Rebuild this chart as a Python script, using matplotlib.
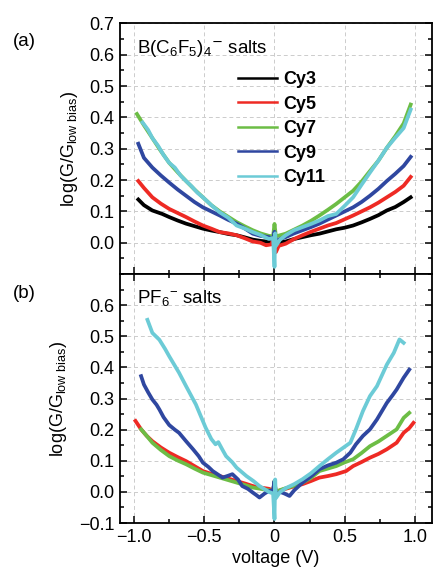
import matplotlib
matplotlib.use("Agg")
import matplotlib.pyplot as plt
from matplotlib.ticker import MultipleLocator, FixedLocator

plt.rcParams['font.family'] = ['Liberation Sans', 'DejaVu Sans']
plt.rcParams['mathtext.fontset'] = 'custom'
plt.rcParams['mathtext.rm'] = 'Liberation Sans'
plt.rcParams['mathtext.it'] = 'Liberation Sans:italic'
plt.rcParams['mathtext.bf'] = 'Liberation Sans:bold'

# ---------------- data: panel (a) B(C6F5)4- salts ----------------
a_cy3_x = [-0.97, -0.93, -0.87, -0.80, -0.75, -0.69, -0.63, -0.57, -0.51, -0.45, -0.39, -0.33, -0.27, -0.21, -0.155, -0.10, -0.04, -0.01, 0.0, 0.01, 0.05, 0.08, 0.14, 0.20, 0.26, 0.32, 0.38, 0.44, 0.50, 0.56, 0.62, 0.68, 0.74, 0.80, 0.86, 0.92, 0.97]
a_cy3_y = [0.138, 0.12, 0.103, 0.092, 0.082, 0.071, 0.061, 0.053, 0.045, 0.039, 0.034, 0.028, 0.024, 0.017, 0.010, 0.006, 0.003, 0.010, 0.03, 0.0, 0.002, 0.004, 0.012, 0.018, 0.024, 0.029, 0.036, 0.043, 0.048, 0.055, 0.065, 0.076, 0.088, 0.103, 0.114, 0.130, 0.145]

a_cy5_x = [-0.97, -0.93, -0.87, -0.81, -0.75, -0.69, -0.63, -0.57, -0.51, -0.45, -0.39, -0.33, -0.27, -0.21, -0.155, -0.10, -0.06, -0.02, 0.0, 0.01, 0.03, 0.08, 0.14, 0.20, 0.26, 0.32, 0.38, 0.44, 0.50, 0.56, 0.62, 0.68, 0.74, 0.80, 0.86, 0.92, 0.97]
a_cy5_y = [0.197, 0.175, 0.145, 0.125, 0.108, 0.095, 0.082, 0.068, 0.055, 0.045, 0.034, 0.030, 0.024, 0.014, 0.004, 0.0, -0.008, -0.005, 0.04, -0.03, -0.01, -0.003, 0.012, 0.024, 0.035, 0.045, 0.055, 0.063, 0.075, 0.087, 0.100, 0.113, 0.128, 0.145, 0.162, 0.182, 0.210]

a_cy7_x = [-0.98, -0.93, -0.87, -0.81, -0.75, -0.69, -0.63, -0.57, -0.51, -0.45, -0.39, -0.33, -0.27, -0.21, -0.155, -0.10, -0.04, -0.01, 0.0, 0.01, 0.04, 0.08, 0.14, 0.20, 0.26, 0.32, 0.38, 0.44, 0.50, 0.56, 0.62, 0.68, 0.74, 0.80, 0.86, 0.92, 0.97]
a_cy7_y = [0.411, 0.375, 0.334, 0.293, 0.255, 0.225, 0.197, 0.170, 0.145, 0.120, 0.100, 0.083, 0.066, 0.052, 0.040, 0.030, 0.022, 0.020, 0.060, 0.020, 0.024, 0.029, 0.042, 0.055, 0.070, 0.087, 0.105, 0.124, 0.145, 0.166, 0.195, 0.229, 0.262, 0.303, 0.340, 0.381, 0.441]

a_cy9_x = [-0.97, -0.93, -0.87, -0.81, -0.75, -0.69, -0.63, -0.57, -0.51, -0.45, -0.39, -0.33, -0.27, -0.21, -0.155, -0.10, -0.04, -0.01, 0.0, 0.01, 0.04, 0.08, 0.14, 0.20, 0.26, 0.32, 0.38, 0.44, 0.50, 0.56, 0.62, 0.68, 0.74, 0.80, 0.86, 0.92, 0.97]
a_cy9_y = [0.316, 0.271, 0.240, 0.215, 0.192, 0.170, 0.150, 0.130, 0.113, 0.100, 0.087, 0.073, 0.061, 0.045, 0.029, 0.022, 0.018, 0.010, 0.035, 0.005, 0.012, 0.018, 0.030, 0.040, 0.050, 0.061, 0.074, 0.087, 0.100, 0.113, 0.130, 0.150, 0.172, 0.197, 0.220, 0.245, 0.274]

a_cy11_x = [-0.94, -0.90, -0.87, -0.83, -0.79, -0.75, -0.71, -0.67, -0.63, -0.59, -0.55, -0.51, -0.45, -0.39, -0.33, -0.27, -0.21, -0.155, -0.10, -0.04, -0.01, 0.0, 0.005, 0.01, 0.04, 0.08, 0.14, 0.20, 0.26, 0.32, 0.38, 0.44, 0.50, 0.56, 0.62, 0.68, 0.74, 0.80, 0.86, 0.92, 0.97]
a_cy11_y = [0.384, 0.36, 0.334, 0.31, 0.28, 0.255, 0.24, 0.215, 0.197, 0.18, 0.16, 0.145, 0.12, 0.097, 0.080, 0.055, 0.045, 0.034, 0.025, 0.012, 0.015, -0.077, 0.03, -0.01, 0.010, 0.024, 0.040, 0.050, 0.060, 0.071, 0.085, 0.092, 0.118, 0.145, 0.185, 0.224, 0.262, 0.303, 0.335, 0.366, 0.425]

# ---------------- data: panel (b) PF6- salts ----------------
b_cy5_x = [-0.99, -0.95, -0.91, -0.87, -0.81, -0.75, -0.69, -0.63, -0.57, -0.51, -0.45, -0.39, -0.33, -0.27, -0.21, -0.155, -0.10, -0.04, -0.01, 0.0, 0.01, 0.04, 0.08, 0.14, 0.20, 0.26, 0.32, 0.38, 0.44, 0.51, 0.56, 0.62, 0.68, 0.74, 0.80, 0.87, 0.92, 0.96, 0.99]
b_cy5_y = [0.228, 0.201, 0.18, 0.163, 0.143, 0.126, 0.112, 0.099, 0.083, 0.067, 0.058, 0.051, 0.043, 0.035, 0.027, 0.019, 0.014, 0.010, 0.005, 0.03, 0.0, 0.005, 0.010, 0.018, 0.025, 0.035, 0.046, 0.051, 0.057, 0.067, 0.083, 0.096, 0.110, 0.122, 0.137, 0.158, 0.19, 0.205, 0.222]

b_cy7_x = [-0.95, -0.91, -0.87, -0.81, -0.75, -0.69, -0.63, -0.57, -0.51, -0.45, -0.39, -0.33, -0.27, -0.21, -0.155, -0.10, -0.04, -0.01, 0.0, 0.01, 0.04, 0.08, 0.14, 0.20, 0.26, 0.32, 0.38, 0.44, 0.50, 0.56, 0.62, 0.68, 0.74, 0.80, 0.87, 0.92, 0.96]
b_cy7_y = [0.201, 0.18, 0.158, 0.135, 0.115, 0.101, 0.089, 0.075, 0.062, 0.054, 0.046, 0.038, 0.030, 0.022, 0.014, 0.010, 0.005, 0.003, 0.035, 0.0, 0.006, 0.012, 0.020, 0.030, 0.045, 0.067, 0.075, 0.083, 0.095, 0.105, 0.125, 0.147, 0.162, 0.180, 0.201, 0.238, 0.254]

b_cy9_x = [-0.95, -0.93, -0.90, -0.87, -0.84, -0.82, -0.79, -0.75, -0.71, -0.68, -0.63, -0.58, -0.54, -0.51, -0.47, -0.44, -0.40, -0.37, -0.33, -0.30, -0.26, -0.23, -0.19, -0.155, -0.13, -0.107, -0.07, -0.04, -0.01, 0.0, 0.01, 0.04, 0.07, 0.107, 0.14, 0.20, 0.26, 0.32, 0.38, 0.44, 0.49, 0.54, 0.58, 0.63, 0.68, 0.73, 0.80, 0.84, 0.87, 0.92, 0.96]
b_cy9_y = [0.372, 0.345, 0.32, 0.297, 0.28, 0.265, 0.24, 0.215, 0.2, 0.19, 0.163, 0.137, 0.115, 0.094, 0.08, 0.067, 0.055, 0.046, 0.052, 0.057, 0.04, 0.019, 0.01, -0.002, -0.01, -0.018, -0.005, 0.003, 0.005, 0.035, -0.01, 0.0, -0.005, -0.013, 0.005, 0.03, 0.05, 0.073, 0.085, 0.094, 0.105, 0.126, 0.153, 0.18, 0.201, 0.233, 0.286, 0.31, 0.329, 0.367, 0.393]

b_cy11_x = [-0.905, -0.87, -0.82, -0.78, -0.75, -0.68, -0.63, -0.56, -0.49, -0.45, -0.42, -0.40, -0.37, -0.345, -0.30, -0.27, -0.20, -0.15, -0.107, -0.04, -0.01, 0.0, 0.005, 0.01, 0.04, 0.08, 0.14, 0.20, 0.26, 0.32, 0.38, 0.44, 0.49, 0.54, 0.58, 0.63, 0.68, 0.73, 0.80, 0.85, 0.89, 0.92]
b_cy11_y = [0.553, 0.511, 0.489, 0.46, 0.436, 0.383, 0.34, 0.281, 0.206, 0.17, 0.153, 0.16, 0.135, 0.115, 0.095, 0.078, 0.051, 0.035, 0.019, 0.0, -0.005, -0.087, 0.04, -0.02, 0.0, 0.012, 0.025, 0.041, 0.06, 0.083, 0.105, 0.126, 0.142, 0.158, 0.201, 0.26, 0.308, 0.34, 0.409, 0.447, 0.49, 0.479]

labels = ['Cy3', 'Cy5', 'Cy7', 'Cy9', 'Cy11']
colors = ['#000000', '#ee2a24', '#6cbd45', '#2f47a0', '#6ccbd6']
x_ticks = [-1.0, -0.5, 0.0, 0.5, 1.0]
x_ticklabels = ['\u22121.0', '\u22120.5', '0', '0.5', '1.0']

FS = 13

fig = plt.figure(figsize=(4.35, 5.71), dpi=100)
ax1 = fig.add_axes([0.276, 0.520, 0.7165, 0.439])
ax2 = fig.add_axes([0.276, 0.084, 0.7165, 0.436])

lw = 2.7
top_series = [(a_cy3_x, a_cy3_y), (a_cy5_x, a_cy5_y), (a_cy7_x, a_cy7_y), (a_cy9_x, a_cy9_y), (a_cy11_x, a_cy11_y)]
for (x, y), c, lab in zip(top_series, colors, labels):
    ax1.plot(x, y, color=c, lw=lw, label=lab, solid_joinstyle='round')

bot_series = [(b_cy5_x, b_cy5_y), (b_cy7_x, b_cy7_y), (b_cy9_x, b_cy9_y), (b_cy11_x, b_cy11_y)]
for (x, y), c in zip(bot_series, colors[1:]):
    ax2.plot(x, y, color=c, lw=lw, solid_joinstyle='round')

ylab = r'log(G/G$_{\mathrm{low\ bias}}$)'
for ax in (ax1, ax2):
    ax.set_xlim(-1.1, 1.12)
    ax.set_ylim(-0.1, 0.7)
    ax.xaxis.set_major_locator(FixedLocator(x_ticks))
    ax.xaxis.set_minor_locator(MultipleLocator(0.25))
    ax.yaxis.set_major_locator(MultipleLocator(0.1))
    ax.yaxis.set_minor_locator(MultipleLocator(0.05))
    ax.grid(True, which='major', color='#cccccc', linestyle=(0, (4, 3)), linewidth=0.7)
    ax.set_axisbelow(True)
    for s in ax.spines.values():
        s.set_linewidth(1.3)
    ax.tick_params(which='both', direction='in', width=1.1, labelsize=FS, pad=4, right=True)
    ax.tick_params(which='major', length=5)
    ax.tick_params(which='minor', length=3)
    ax.set_ylabel(ylab, fontsize=FS, labelpad=7)

ax1.tick_params(which='both', top=False, labelbottom=False)
ax2.tick_params(which='both', top=True)
ax1.set_yticks([0.0, 0.1, 0.2, 0.3, 0.4, 0.5, 0.6, 0.7])
ax1.set_yticklabels(['0.0', '0.1', '0.2', '0.3', '0.4', '0.5', '0.6', '0.7'])
ax2.set_yticks([-0.1, 0.0, 0.1, 0.2, 0.3, 0.4, 0.5, 0.6])
ax2.set_yticklabels(['\u22120.1', '0.0', '0.1', '0.2', '0.3', '0.4', '0.5', '0.6'])
ax2.set_xticklabels(x_ticklabels)
ax2.set_xlabel('voltage (V)', fontsize=FS, labelpad=3)

ax1.text(0.055, 0.90, r'B(C$_6$F$_5$)$_4$$^{\mathsf{-}}$ salts', transform=ax1.transAxes,
         fontsize=13.5, va='center', ha='left')
ax2.text(0.055, 0.905, r'PF$_6$$^{-}$ salts', transform=ax2.transAxes,
         fontsize=13.5, va='center', ha='left')

leg = ax1.legend(loc='upper left', bbox_to_anchor=(0.378, 0.81), frameon=False,
                 prop={'weight': 'bold', 'size': 13}, handlelength=2.15,
                 handletextpad=0.35, labelspacing=0.42, borderpad=0, borderaxespad=0)
for h in leg.get_lines():
    h.set_linewidth(1.8)

fig.text(0.03, 1 - 42 / 571, '(a)', fontsize=13.5, va='center', ha='left')
fig.text(0.03, 1 - 293 / 571, '(b)', fontsize=13.5, va='center', ha='left')

fig.savefig('out.png', dpi=100)
